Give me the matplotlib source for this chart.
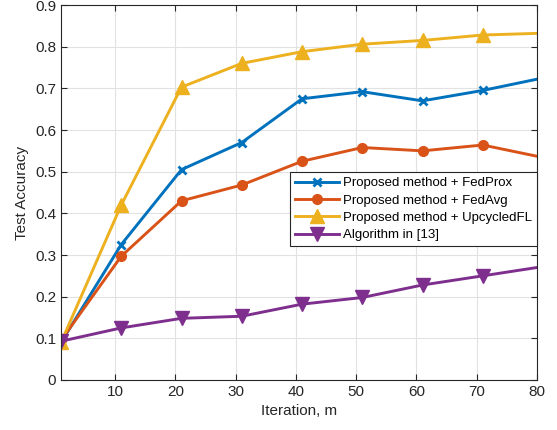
import matplotlib
matplotlib.use("Agg")
import matplotlib.pyplot as plt
import numpy as np

plt.rcParams['font.family'] = ['Liberation Sans', 'DejaVu Sans']

# accuracy sampled every 10 iterations, plus the final one
iters = [1, 11, 21, 31, 41, 51, 61, 71, 80]
fedprox = [0.090, 0.325, 0.505, 0.570, 0.675, 0.692, 0.670, 0.695, 0.722]
fedavg = [0.095, 0.297, 0.430, 0.468, 0.525, 0.558, 0.550, 0.564, 0.537]
upcycled = [0.090, 0.420, 0.703, 0.760, 0.788, 0.806, 0.815, 0.828, 0.832]
baseline = [0.093, 0.125, 0.148, 0.153, 0.182, 0.198, 0.228, 0.250, 0.270]

labels = ['Proposed method + FedProx', 'Proposed method + FedAvg',
          'Proposed method + UpcycledFL', 'Algorithm in [13]']
colors = ['#0072BD', '#D95319', '#EDB120', '#7E2F8E']
markers = ['x', 'o', '^', 'v']
msizes = [6, 7, 10, 10]

fig = plt.figure(figsize=(5.57, 4.30), dpi=100)
ax = fig.add_axes([0.1095, 0.1163, 0.8546, 0.872])

marks = list(range(len(iters) - 1))
for y, lab, c, m, ms in zip([fedprox, fedavg, upcycled, baseline], labels, colors, markers, msizes):
    ax.plot(iters, y, color=c, lw=2.1, marker=m, ms=ms, mew=2 if m == 'x' else 1,
            markevery=marks, label=lab)

ax.set_xlim(1, 80)
ax.set_ylim(0, 0.9)
ax.set_xticks(np.arange(10, 81, 10))
ax.set_yticks(np.arange(0, 0.91, 0.1))
ax.set_yticklabels(['0'] + ['%.1f' % v for v in np.arange(0.1, 0.91, 0.1)])
ax.grid(True, color='#e2e2e2', lw=0.8)
ax.set_axisbelow(True)
ax.tick_params(direction='in', labelsize=11, colors='#262626', length=4,
               right=True, top=True, labelright=False, labeltop=False)
for s in ax.spines.values():
    s.set_color('#262626')
    s.set_linewidth(0.8)

ax.set_xlabel('Iteration, m', fontsize=11, color='#262626')
ax.set_ylabel('Test Accuracy', fontsize=11, color='#262626')

leg = ax.legend(loc='upper right', bbox_to_anchor=(1.0, 0.555), fontsize=9.5,
                fancybox=False, framealpha=1, edgecolor='#262626',
                borderaxespad=0, handlelength=3.3, labelspacing=0.38,
                borderpad=0.4, handletextpad=0.3)
leg.get_frame().set_linewidth(0.8)

fig.savefig('out.png', dpi=100)
